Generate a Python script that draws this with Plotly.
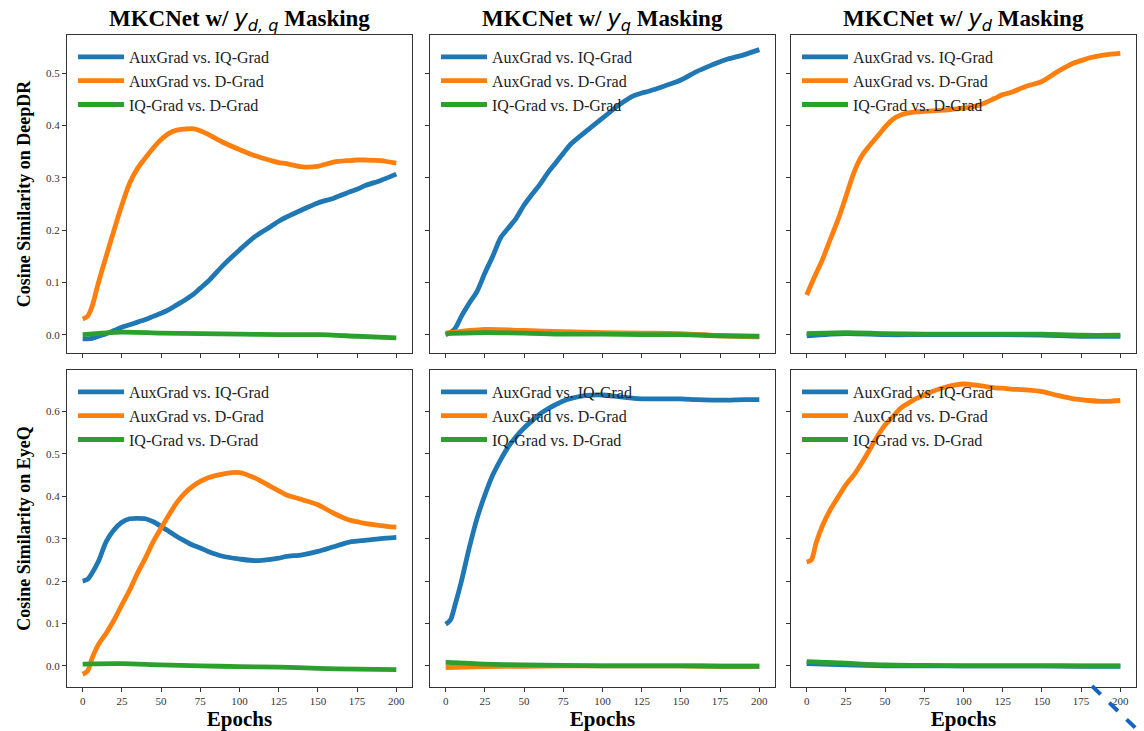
import plotly.graph_objects as go
from plotly.subplots import make_subplots

# ---- data -------------------------------------------------------------
EPOCHS_FINE = [0, 3, 6, 10, 15, 20, 25, 30, 35, 40, 45, 50, 55, 60, 65, 70, 75, 80,
               90, 100, 110, 120, 125, 130, 140, 150, 160, 170, 175, 180, 190, 200]
EPOCHS_COARSE = [0, 25, 50, 75, 100, 125, 150, 175, 200]

SERIES_NAMES = ["AuxGrad vs. IQ-Grad", "AuxGrad vs. D-Grad", "IQ-Grad vs. D-Grad"]
COLUMN_TITLES = [
    "MKCNet w/ <span style='font-family:DejaVu Sans;font-weight:normal'><i>y</i><sub><i>d, q</i></sub></span> Masking",
    "MKCNet w/ <span style='font-family:DejaVu Sans;font-weight:normal'><i>y</i><sub><i>q</i></sub></span> Masking",
    "MKCNet w/ <span style='font-family:DejaVu Sans;font-weight:normal'><i>y</i><sub><i>d</i></sub></span> Masking",
]
ROW_TITLES = ["Cosine Similarity on DeepDR", "Cosine Similarity on EyeQ"]

# DeepDR, y_{d,q} masking
dr_dq_aux_iq = [-0.008, -0.008, -0.007, -0.003, 0.002, 0.008, 0.014, 0.019, 0.024, 0.029, 0.035, 0.041,
                0.048, 0.057, 0.066, 0.076, 0.089, 0.102, 0.134, 0.162, 0.188, 0.207, 0.217, 0.225,
                0.239, 0.252, 0.261, 0.273, 0.278, 0.285, 0.295, 0.307]
dr_dq_aux_d = [0.030, 0.035, 0.054, 0.099, 0.150, 0.200, 0.248, 0.290, 0.318, 0.338, 0.357, 0.373,
               0.385, 0.391, 0.393, 0.394, 0.390, 0.383, 0.367, 0.354, 0.342, 0.333, 0.329, 0.327,
               0.321, 0.322, 0.330, 0.333, 0.334, 0.334, 0.333, 0.328]
dr_dq_iq_d = [0.000, 0.005, 0.003, 0.002, 0.001, 0.000, 0.000, -0.003, -0.006]

# DeepDR, y_q masking
dr_q_aux_iq = [0.000, 0.004, 0.012, 0.035, 0.060, 0.083, 0.118, 0.150, 0.185, 0.204, 0.223, 0.248,
               0.268, 0.287, 0.309, 0.328, 0.347, 0.365, 0.390, 0.414, 0.438, 0.457, 0.462, 0.466,
               0.476, 0.487, 0.503, 0.516, 0.522, 0.527, 0.535, 0.545]
dr_q_aux_d = [0.003, 0.010, 0.008, 0.006, 0.004, 0.003, 0.002, -0.002, -0.004]
dr_q_iq_d = [0.002, 0.004, 0.003, 0.001, 0.001, 0.000, 0.000, -0.002, -0.003]

# DeepDR, y_d masking
dr_d_aux_iq = [-0.002, 0.002, 0.000, 0.000, 0.000, 0.000, -0.001, -0.003, -0.003]
dr_d_aux_d = [0.076, 0.097, 0.117, 0.143, 0.182, 0.220, 0.264, 0.309, 0.341, 0.361, 0.379, 0.397,
              0.412, 0.420, 0.424, 0.426, 0.427, 0.428, 0.430, 0.433, 0.439, 0.452, 0.459, 0.463,
              0.475, 0.484, 0.503, 0.519, 0.524, 0.529, 0.535, 0.538]
dr_d_iq_d = [0.002, 0.004, 0.002, 0.001, 0.001, 0.001, 0.001, -0.001, -0.001]

# EyeQ, y_{d,q} masking
eq_dq_aux_iq = [0.200, 0.204, 0.219, 0.246, 0.293, 0.321, 0.339, 0.347, 0.348, 0.347, 0.340, 0.329,
                0.317, 0.305, 0.295, 0.285, 0.278, 0.270, 0.258, 0.252, 0.248, 0.251, 0.254, 0.258,
                0.262, 0.270, 0.281, 0.292, 0.294, 0.296, 0.300, 0.303]
eq_dq_aux_d = [-0.020, -0.013, 0.018, 0.050, 0.077, 0.108, 0.144, 0.179, 0.219, 0.254, 0.293, 0.325,
               0.356, 0.385, 0.407, 0.423, 0.435, 0.444, 0.453, 0.456, 0.443, 0.423, 0.413, 0.403,
               0.392, 0.380, 0.360, 0.344, 0.340, 0.336, 0.331, 0.327]
eq_dq_iq_d = [0.004, 0.005, 0.002, 0.000, -0.002, -0.003, -0.006, -0.008, -0.009]

# EyeQ, y_q masking
eq_q_aux_iq = [0.098, 0.108, 0.144, 0.199, 0.278, 0.348, 0.403, 0.450, 0.486, 0.517, 0.541, 0.561,
               0.578, 0.594, 0.606, 0.616, 0.625, 0.631, 0.638, 0.639, 0.635, 0.631, 0.630, 0.630,
               0.630, 0.630, 0.628, 0.627, 0.627, 0.627, 0.628, 0.628]
eq_q_aux_d = [-0.004, -0.002, -0.001, 0.000, 0.000, 0.000, 0.000, -0.001, -0.001]
eq_q_iq_d = [0.008, 0.004, 0.002, 0.001, 0.000, 0.000, 0.000, -0.001, -0.001]

# EyeQ, y_d masking
eq_d_aux_iq = [0.005, 0.002, 0.000, 0.000, 0.000, 0.000, 0.000, -0.001, -0.001]
eq_d_aux_d = [0.245, 0.250, 0.290, 0.330, 0.368, 0.398, 0.427, 0.450, 0.478, 0.509, 0.541, 0.568,
              0.588, 0.608, 0.620, 0.631, 0.639, 0.647, 0.659, 0.665, 0.661, 0.656, 0.655, 0.653,
              0.651, 0.647, 0.638, 0.630, 0.628, 0.626, 0.624, 0.626]
eq_d_iq_d = [0.010, 0.006, 0.002, 0.001, 0.000, 0.000, 0.000, 0.000, 0.000]

F, C = EPOCHS_FINE, EPOCHS_COARSE
PANELS = [
    [(F, dr_dq_aux_iq), (F, dr_dq_aux_d), (C, dr_dq_iq_d)],
    [(F, dr_q_aux_iq), (C, dr_q_aux_d), (C, dr_q_iq_d)],
    [(C, dr_d_aux_iq), (F, dr_d_aux_d), (C, dr_d_iq_d)],
    [(F, eq_dq_aux_iq), (F, eq_dq_aux_d), (C, eq_dq_iq_d)],
    [(F, eq_q_aux_iq), (C, eq_q_aux_d), (C, eq_q_iq_d)],
    [(C, eq_d_aux_iq), (F, eq_d_aux_d), (C, eq_d_iq_d)],
]

# ---- styling ----------------------------------------------------------
COLORS = ["#1f77b4", "#ff7f0e", "#2ca02c"]
SERIF = "Liberation Serif, Times New Roman, serif"
W, H = 1144, 731
COL_PX = [(67, 412), (430, 775), (791, 1136)]
ROW_PX = [(35, 353), (370, 687)]
Y_RANGES = [[-0.035, 0.573], [-0.05, 0.698]]

fig = make_subplots(rows=2, cols=3)

for p, series in enumerate(PANELS):
    r, c = divmod(p, 3)
    leg = "legend" if p == 0 else f"legend{p + 1}"
    for s, (xs, ys) in enumerate(series):
        fig.add_trace(
            go.Scatter(x=xs, y=ys, mode="lines", name=SERIES_NAMES[s],
                       line=dict(color=COLORS[s], width=4.8, shape="spline", smoothing=0.8),
                       legend=leg),
            row=r + 1, col=c + 1,
        )

axis_common = dict(
    showgrid=False, zeroline=False, showline=True, mirror=True,
    linecolor="#333333", linewidth=1.2, ticks="outside", ticklen=4,
    tickcolor="#333333", tickfont=dict(family=SERIF, size=11, color="#333333"),
)

layout = dict(
    width=W, height=H, margin=dict(l=0, r=0, t=0, b=0),
    paper_bgcolor="white", plot_bgcolor="white",
    font=dict(family=SERIF, color="black"),
    annotations=[], shapes=[],
)

for p in range(6):
    r, c = divmod(p, 3)
    idx = "" if p == 0 else str(p + 1)
    x0, x1 = COL_PX[c]
    y0, y1 = ROW_PX[r]
    xd = [x0 / W, x1 / W]
    yd = [1 - y1 / H, 1 - y0 / H]
    xa = dict(axis_common, domain=xd, range=[-10, 210], tickvals=list(range(0, 201, 25)),
              showticklabels=(r == 1))
    if r == 1:
        xa["title"] = dict(text="<b>Epochs</b>", font=dict(family=SERIF, size=21), standoff=2)
    ya = dict(axis_common, domain=yd, range=Y_RANGES[r], dtick=0.1, tickformat=".1f",
              showticklabels=(c == 0))
    if c == 0:
        ya["title"] = dict(text=f"<b>{ROW_TITLES[r]}</b>", font=dict(family=SERIF, size=18), standoff=10)
    layout[f"xaxis{idx}"] = xa
    layout[f"yaxis{idx}"] = ya

    leg = "legend" if p == 0 else f"legend{p + 1}"
    layout[leg] = dict(
        x=xd[0] + 6 / W, y=yd[1] - 5 / H, xanchor="left", yanchor="top",
        bgcolor="rgba(0,0,0,0)", borderwidth=0,
        font=dict(family=SERIF, size=16, color="#222222"),
        itemwidth=46, tracegroupgap=0,
    )

for c in range(3):
    x0, x1 = COL_PX[c]
    layout["annotations"].append(dict(
        text=f"<b>{COLUMN_TITLES[c]}</b>", x=(x0 + x1) / 2 / W, y=1 - 20 / H,
        xref="paper", yref="paper", showarrow=False, xanchor="center", yanchor="middle",
        font=dict(family=SERIF, size=23, color="black"),
    ))

# dashed stroke running off the lower-right corner
layout["shapes"].append(dict(
    type="line", xref="paper", yref="paper",
    x0=1092 / W, y0=1 - 686 / H, x1=1150 / W, y1=1 - 742 / H,
    line=dict(color="#1565c0", width=4, dash="dash"),
))

fig.update_layout(**layout)
fig.write_html("out.html")
